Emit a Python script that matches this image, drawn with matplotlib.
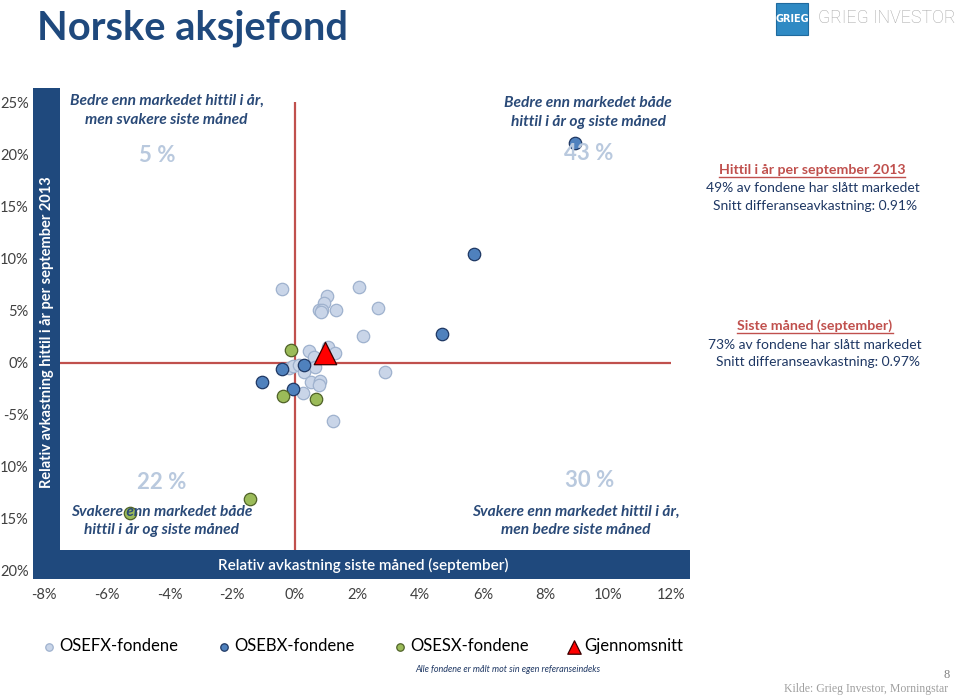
import matplotlib
matplotlib.use("Agg")
import matplotlib.pyplot as plt
import matplotlib.patches as patches
from matplotlib.lines import Line2D

plt.rcParams['font.family'] = ['Lato', 'DejaVu Sans']

# Data: relativ avkastning siste måned (x) og hittil i år (y), i prosent
osefx_x = [-0.42, 1.03, 0.94, 0.78, 0.87, 0.85, 1.31, 2.05, 2.64, 2.18, 0.46, 0.61,
           1.06, 1.29, -0.18, -0.05, 0.13, 0.66, 0.29, 0.53, 0.81, 0.78, 0.26, 2.89, 1.22]
osefx_y = [7.07, 6.36, 5.73, 5.06, 5.09, 4.83, 5.06, 7.29, 5.21, 2.59, 1.12, 0.58,
           1.51, 0.93, -0.51, -0.35, -0.2, -0.45, -0.93, -1.85, -1.79, -2.11, -2.91, -0.93, -5.57]
osebx_x = [8.95, 5.73, 4.69, -0.42, 0.28, -1.05, -0.06]
osebx_y = [21.1, 10.43, 2.75, -0.58, -0.22, -1.82, -2.53]
osesx_x = [-0.13, -0.37, 0.69, -1.44, -5.27]
osesx_y = [1.25, -3.2, -3.45, -13.1, -14.4]
snitt_x = [0.97]
snitt_y = [0.91]

x_ticks = [-8, -6, -4, -2, 0, 2, 4, 6, 8, 10, 12]
x_tick_labels = ['-8%', '-6%', '-4%', '-2%', '0%', '2%', '4%', '6%', '8%', '10%', '12%']
y_ticks = [25, 20, 15, 10, 5, 0, -5, -10, -15, -20]
y_tick_labels = ['25%', '20%', '15%', '10%', '5%', '0%', '-5%', '10%', '15%', '20%']

quadrant_pct = ['5 %', '43 %', '22 %', '30 %']

NAVY = '#1F497D'
TEXT = '#1F3864'
PALE = '#B9C9DE'
RED_TXT = '#C0504D'

W, H = 960, 695
fig = plt.figure(figsize=(9.6, 6.95), dpi=100)


def fx(px):
    return px / W


def fy(py):
    return 1 - py / H


ax = fig.add_axes([fx(44), fy(571), (671 - 44) / W, (571 - 102) / H])
ax.set_xlim(-8, 12)
ax.set_ylim(-20, 25)
for s in ax.spines.values():
    s.set_visible(False)
ax.set_xticks(x_ticks)
ax.set_xticklabels(x_tick_labels)
ax.set_yticks(y_ticks)
ax.set_yticklabels(y_tick_labels)
ax.tick_params(length=0, labelsize=10.5, labelcolor='#404040')
ax.tick_params(axis='y', pad=11)
ax.tick_params(axis='x', pad=12)

# Kryss ved null
ax.axhline(0, color='#C0504D', lw=1.6, zorder=1)
ax.axvline(0, color='#C0504D', lw=1.6, zorder=1)

sc1 = ax.scatter(osefx_x, osefx_y, s=80, facecolor='#C9D5E8', edgecolor='#9FB2CE',
                 linewidth=0.9, zorder=3, label='OSEFX-fondene')
sc2 = ax.scatter(osebx_x, osebx_y, s=80, facecolor='#4F81BD', edgecolor='#1F3864',
                 linewidth=0.9, zorder=4, label='OSEBX-fondene')
sc3 = ax.scatter(osesx_x, osesx_y, s=80, facecolor='#9BBB59', edgecolor='#4F6228',
                 linewidth=0.9, zorder=4, label='OSESX-fondene')
sc4 = ax.scatter(snitt_x, snitt_y, s=260, marker='^', facecolor='#FF0000', edgecolor='#3A0000',
                 linewidth=0.9, zorder=5, label='Gjennomsnitt')

# Kvadrant-tekster
qkw = dict(ha='center', va='center', fontsize=11.2, fontweight='bold', fontstyle='italic',
           color='#2A4A78', linespacing=1.4, zorder=6)
ax.text(-4.09, 24.2, 'Bedre enn markedet hittil i år,\nmen svakere siste måned', **qkw)
ax.text(9.36, 24.0, 'Bedre enn markedet både\nhittil i år og siste måned', **qkw)
ax.text(-4.25, -15.2, 'Svakere enn markedet både\nhittil i år og siste måned', **qkw)
ax.text(8.95, -15.2, 'Svakere enn markedet hittil i år,\nmen bedre siste måned', **qkw)

pkw = dict(ha='center', va='center', fontsize=16, fontweight='bold', color=PALE, zorder=6)
ax.text(-4.38, 19.9, quadrant_pct[0], **pkw)
ax.text(9.36, 20.1, quadrant_pct[1], **pkw)
ax.text(-4.25, -11.5, quadrant_pct[2], **pkw)
ax.text(9.42, -11.3, quadrant_pct[3], **pkw)

# Blå rammer for aksetitler
fig.patches.append(patches.Rectangle((fx(33), fy(579)), (60 - 33) / W, (579 - 88) / H,
                                     transform=fig.transFigure, facecolor=NAVY,
                                     edgecolor='none', zorder=2))
fig.patches.append(patches.Rectangle((fx(33), fy(579)), (690 - 33) / W, (579 - 550) / H,
                                     transform=fig.transFigure, facecolor=NAVY,
                                     edgecolor='none', zorder=2))
fig.text(fx(47), fy(332), 'Relativ avkastning hittil i år per september 2013', rotation=90,
         ha='center', va='center', color='white', fontsize=10.5, fontweight='bold', zorder=3)
fig.text(fx(363), fy(565), 'Relativ avkastning siste måned (september)',
         ha='center', va='center', color='white', fontsize=11, fontweight='semibold', zorder=3)

# Tittel og logo
fig.text(fx(37), fy(28), 'Norske aksjefond', ha='left', va='center', fontsize=28.7,
         fontweight='bold', color=NAVY)
fig.patches.append(patches.Rectangle((fx(776), fy(35)), 32 / W, 32 / H,
                                     transform=fig.transFigure, facecolor='#2F8AC4',
                                     edgecolor='#1F6A9E', lw=0.8))
fig.text(fx(792), fy(19), 'GRIEG', ha='center', va='center', fontsize=7, color='white',
         fontweight='bold', family=['Liberation Sans Narrow', 'DejaVu Sans'])
fig.text(fx(818), fy(18), 'GRIEG INVESTOR', ha='left', va='center', fontsize=12.8,
         color='#A6A6A6', family=['Roboto', 'DejaVu Sans'], fontweight='light')

# Oppsummering til høyre
rkw = dict(ha='center', va='center', fontsize=10, color=TEXT)
h1 = fig.text(fx(812), fy(170), 'Hittil i år per september 2013', fontweight='bold',
              ha='center', va='center', fontsize=10.2, color=RED_TXT)
fig.text(fx(813), fy(188), '49% av fondene har slått markedet', **rkw)
fig.text(fx(815), fy(206), 'Snitt differanseavkastning: 0.91%', **rkw)
h2 = fig.text(fx(815), fy(326), 'Siste måned (september)', fontweight='bold',
              ha='center', va='center', fontsize=10.2, color=RED_TXT)
fig.text(fx(815), fy(345), '73% av fondene har slått markedet', **rkw)
fig.text(fx(818), fy(362), 'Snitt differanseavkastning: 0.97%', **rkw)

# Forklaring
fig.legend(handles=[sc1, sc2, sc3, sc4], loc='center', bbox_to_anchor=(fx(362), fy(646)),
           ncol=4, frameon=False, fontsize=12, markerscale=0.6, handletextpad=0.1,
           columnspacing=2.25, handlelength=1.0, scatterpoints=1)
fig.text(fx(508), fy(670), 'Alle fondene er målt mot sin egen referanseindeks',
         ha='center', va='center', fontsize=6.5, fontstyle='italic', color=TEXT)
fig.text(fx(950), fy(675), '8', ha='right', va='center', fontsize=9, color='#7F7F7F',
         family=['Liberation Serif'])
fig.text(fx(948), fy(689), 'Kilde: Grieg Investor, Morningstar', ha='right', va='center',
         fontsize=8.5, color='#A0A0A0', family=['Liberation Serif'])

# Understreking av overskriftene
fig.canvas.draw()
r = fig.canvas.get_renderer()
for t in (h1, h2):
    bb = t.get_window_extent(r)
    y = bb.y0 - 1
    fig.lines.append(Line2D([bb.x0 / W, bb.x1 / W], [y / H, y / H],
                            transform=fig.transFigure, color=RED_TXT, lw=1))

fig.savefig('out.png', dpi=100, facecolor='white')
